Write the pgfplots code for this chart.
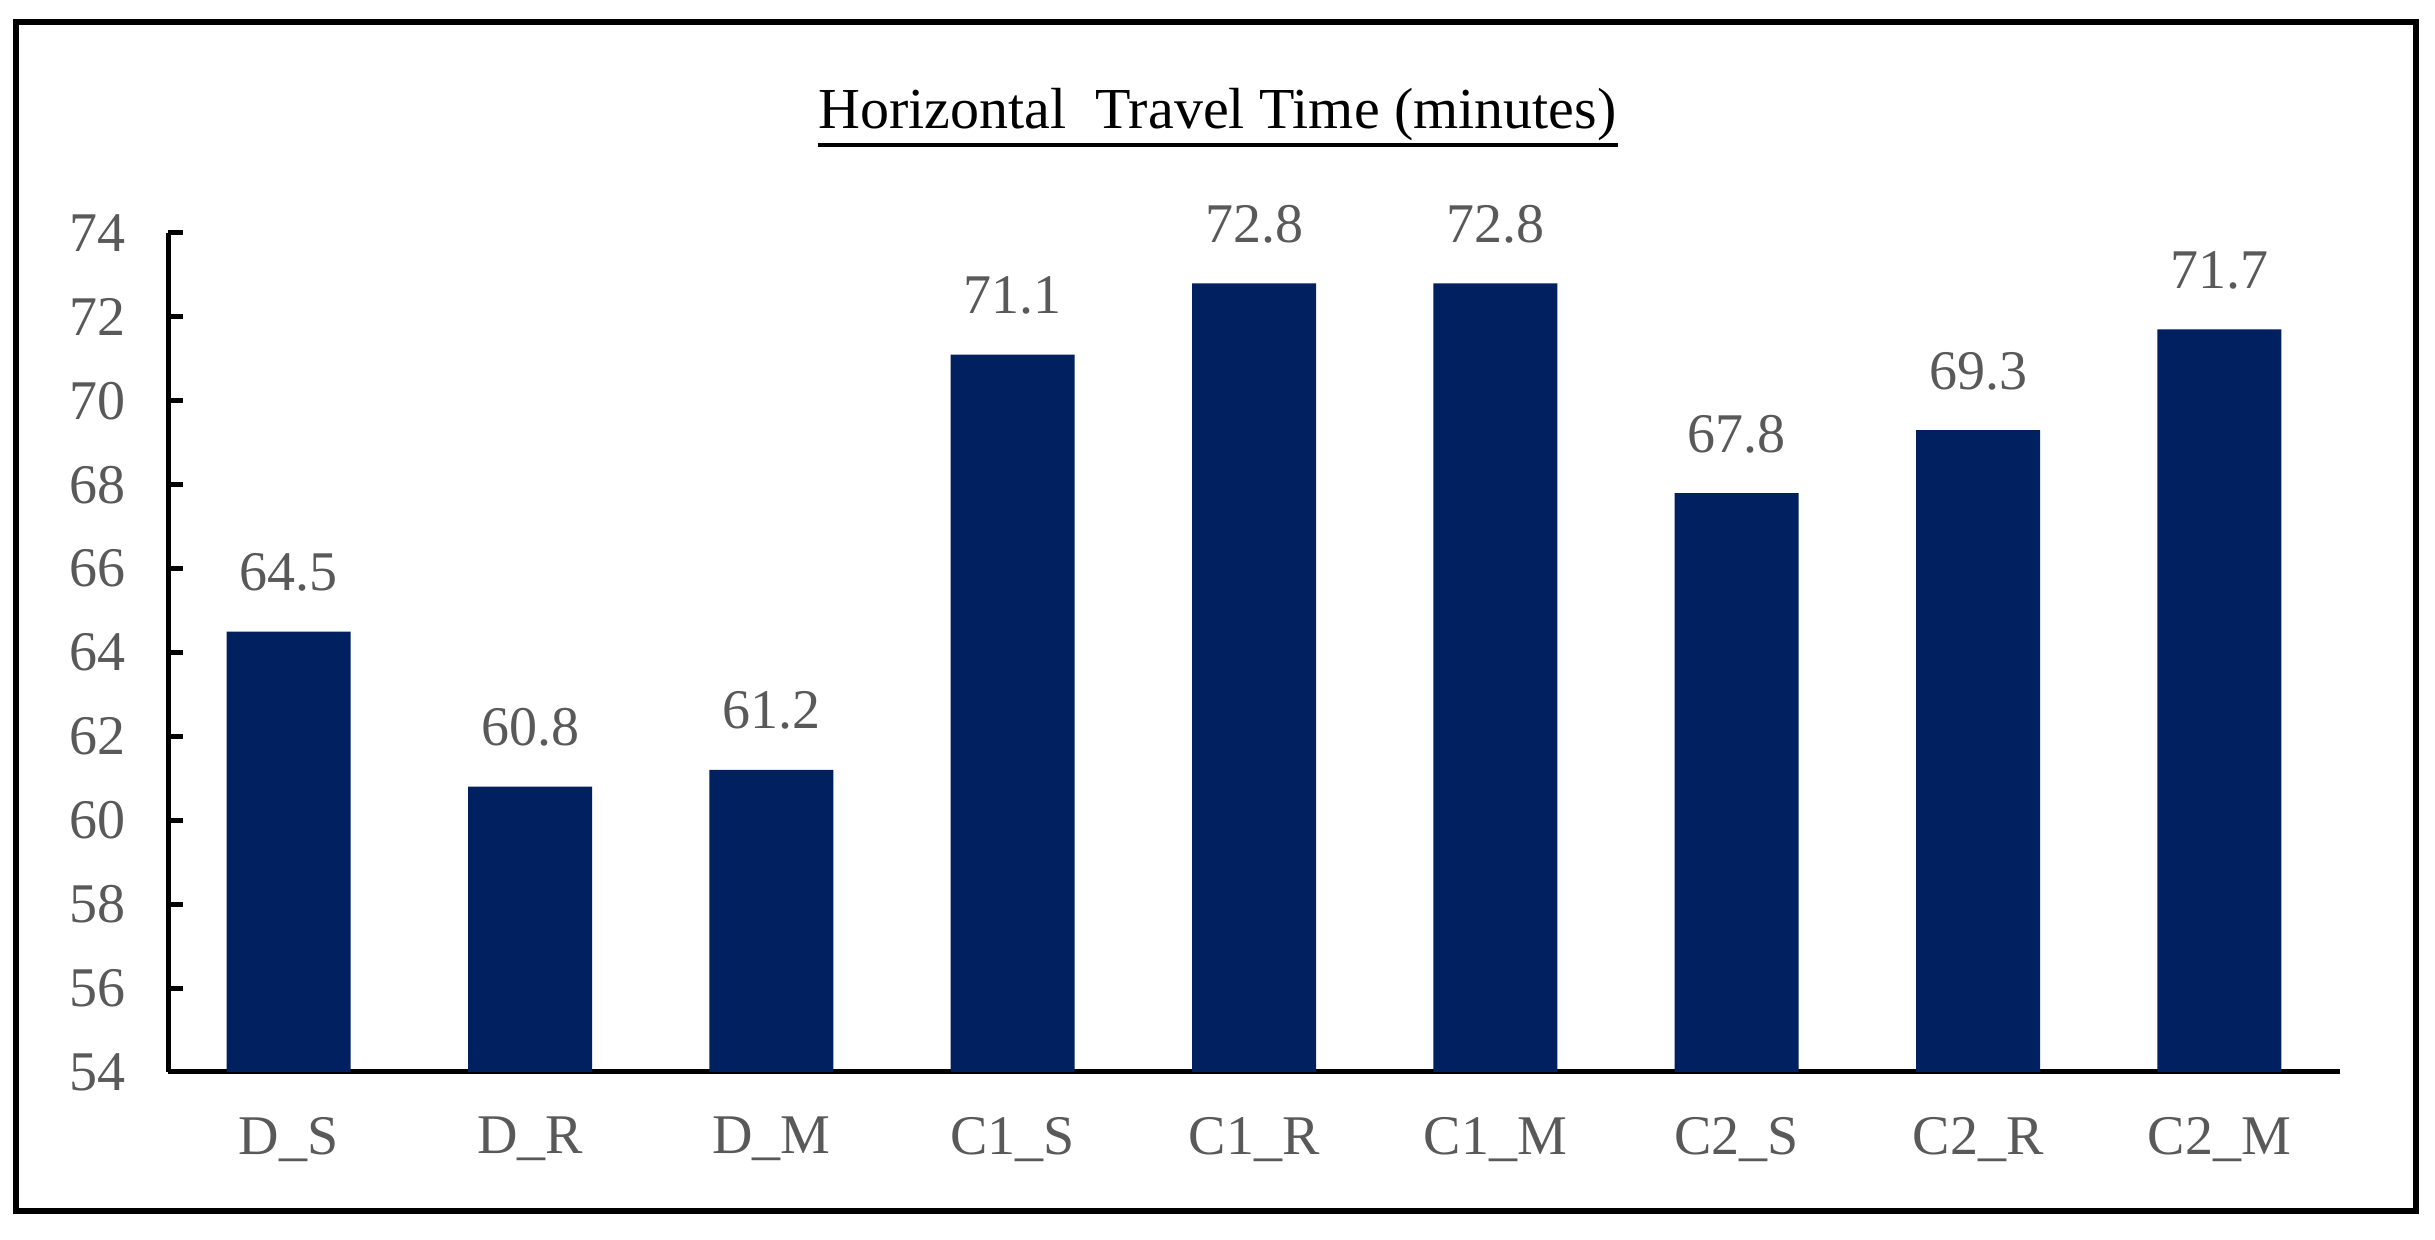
\documentclass[border=0pt]{standalone}
\usepackage{pgfplots}
\pgfplotsset{compat=1.18}
\usepackage{fontspec}
\setmainfont{Liberation Serif}
\definecolor{barblue}{HTML}{002060}
\definecolor{labelgrey}{HTML}{595959}
\begin{document}
\begin{tikzpicture}
    \path[use as bounding box] (0pt,0pt) rectangle (487pt,248pt);
    \draw[line width=1.3pt] (3.2pt,5.8pt) rectangle (483.2pt,243.6pt);
    \node[font=\fontsize{11.6}{14}\selectfont, inner sep=0pt] (title) at (243.5pt,225pt)
        {Horizontal\ \ Travel Time (minutes)};
    \draw[line width=0.8pt] ([yshift=-3.2pt]title.base west) -- ([yshift=-3.2pt]title.base east);
    \begin{axis}[
        at={(33.6pt,33.6pt)},
        anchor=south west,
        scale only axis,
        width=434.4pt,
        height=167.8pt,
        ybar,
        bar width=24.8pt,
        ymin=54,
        ymax=74,
        ytick={54,56,...,74},
        xmin=-0.5,
        xmax=8.5,
        xtick=data,
        xticklabels={D\_S,D\_R,D\_M,C1\_S,C1\_R,C1\_M,C2\_S,C2\_R,C2\_M},
        axis lines*=left,
        axis line style={line width=1pt},
        tick align=inside,
        major tick length=3pt,
        ytick style={line width=1pt, black},
        xtick style={draw=none},
        font=\fontsize{11.2}{13}\selectfont,
        /pgf/number format/assume math mode=true,
        tick label style={text=labelgrey},
        yticklabel style={xshift=-5pt},
        xticklabel style={yshift=-5.5pt},
        nodes near coords,
        nodes near coords style={text=labelgrey, yshift=4.5pt,
            /pgf/number format/fixed, /pgf/number format/precision=1,
            /pgf/number format/fixed zerofill},
    ]
        \addplot[fill=barblue, draw=none] coordinates {
            (0,64.5)
            (1,60.8)
            (2,61.2)
            (3,71.1)
            (4,72.8)
            (5,72.8)
            (6,67.8)
            (7,69.3)
            (8,71.7)
        };
    \end{axis}
\end{tikzpicture}
\end{document}
